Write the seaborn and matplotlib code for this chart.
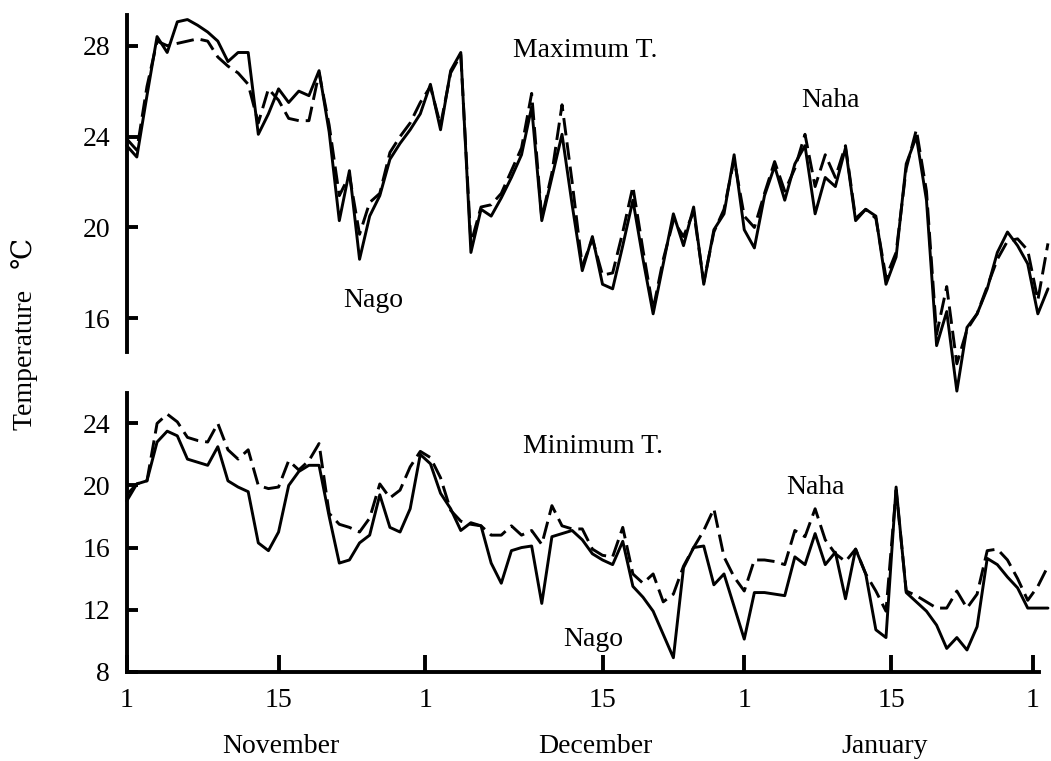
import numpy as np
import pandas as pd
import matplotlib
matplotlib.use("Agg")
import matplotlib.pyplot as plt
import matplotlib.transforms as mtransforms
import seaborn as sns

# ---------------- data (daily, Nov 1 -> Jan 31) ----------------
max_nago = [23.6, 23.1, 25.8, 28.4, 27.7, 29.05, 29.15, 28.9, 28.6, 28.2,
            27.3, 27.7, 27.7, 24.1, 25.0, 26.1, 25.5, 26.0, 25.8, 26.9,
            24.2, 20.3, 22.5, 18.6, 20.5, 21.4, 23.0, 23.7, 24.3, 25.0,
            26.3, 24.3, 26.9, 27.7, 18.9, 20.8, 20.5, 21.3, 22.2, 23.2,
            25.3, 20.3, 22.2, 24.1, 21.0, 18.1, 19.6, 17.5, 17.3, 19.2,
            21.2, 18.6, 16.2, 18.4, 20.6, 19.2, 20.9, 17.5, 19.9, 20.6,
            23.2, 19.9, 19.1, 21.4, 22.7, 21.2, 22.8, 23.6, 20.6, 22.2,
            21.8, 23.5, 20.3, 20.8, 20.5, 17.5, 18.7, 22.8, 24.0, 21.2,
            14.8, 16.3, 12.8, 15.6, 16.2, 17.3, 18.9, 19.8, 19.2, 18.4,
            16.2, 17.3]
max_naha = [23.9, 23.4, 26.2, 28.2, 28.0, 28.1, 28.2, 28.3, 28.2, 27.5,
            27.1, 26.8, 26.3, 24.6, 26.1, 25.6, 24.8, 24.7, 24.7, 26.8,
            24.5, 21.4, 22.3, 19.7, 21.1, 21.5, 23.3, 24.0, 24.6, 25.5,
            26.2, 24.5, 26.8, 27.6, 19.3, 20.9, 21.0, 21.5, 22.5, 23.5,
            25.9, 20.4, 22.4, 25.4, 22.0, 18.3, 19.5, 17.9, 18.0, 19.8,
            21.8, 19.0, 16.4, 18.6, 20.3, 19.6, 20.7, 17.6, 19.8, 20.8,
            23.0, 20.5, 20.0, 21.5, 22.9, 21.6, 22.6, 24.1, 21.8, 23.2,
            22.2, 23.6, 20.4, 20.8, 20.4, 17.8, 18.9, 22.6, 24.3, 21.6,
            15.3, 17.4, 14.0, 15.5, 16.2, 17.4, 18.6, 19.4, 19.5, 19.0,
            16.8, 19.3]
min_nago = [19.0, 20.1, 20.3, 22.8, 23.5, 23.2, 21.7, 21.5, 21.3, 22.5,
            20.3, 19.9, 19.6, 16.3, 15.8, 17.0, 20.0, 20.9, 21.3, 21.3,
            18.0, 15.0, 15.2, 16.3, 16.8, 19.4, 17.3, 17.0, 18.5, 22.0,
            21.4, 19.5, 18.5, 17.1, 17.6, 17.4, 15.0, 13.7, 15.8, 16.0,
            16.1, 12.4, 16.7, 16.9, 17.1, 16.5, 15.6, 15.2, 14.9, 16.4,
            13.5, 12.8, 11.9, 10.4, 8.9, 14.7, 16.0, 16.1, 13.6, 14.3,
            12.2, 10.1, 13.1, 13.1, 13.0, 12.9, 15.4, 14.9, 16.9, 14.9,
            15.7, 12.7, 15.9, 14.3, 10.7, 10.2, 19.9, 13.1, 12.5, 11.9,
            11.0, 9.5, 10.2, 9.4, 10.9, 15.3, 14.9, 14.1, 13.4, 12.1,
            12.1, 12.1]
min_naha = [19.4, 20.1, 20.3, 24.0, 24.6, 24.1, 23.1, 22.9, 22.8, 24.0,
            22.3, 21.7, 22.3, 20.0, 19.8, 19.9, 21.6, 21.0, 21.6, 22.7,
            18.2, 17.5, 17.3, 17.0, 17.9, 20.1, 19.2, 19.7, 21.2, 22.2,
            21.8, 20.5, 18.4, 17.7, 17.5, 17.4, 16.8, 16.8, 17.4, 16.8,
            17.1, 16.2, 18.7, 17.4, 17.2, 17.2, 15.9, 15.5, 15.4, 17.3,
            14.3, 13.7, 14.3, 12.5, 13.0, 14.8, 16.0, 17.1, 18.5, 15.4,
            14.1, 13.2, 15.2, 15.2, 15.1, 14.9, 17.1, 16.7, 18.5, 16.5,
            15.6, 15.1, 15.9, 14.3, 13.2, 11.9, 19.7, 13.2, 12.9, 12.5,
            12.1, 12.1, 13.2, 12.1, 13.0, 15.8, 15.9, 15.2, 14.0, 12.6,
            13.5, 14.8]

days = list(range(len(max_nago)))
stations = ["Nago", "Naha"]
x_tick_pos = [0, 15, 29.5, 47, 61, 75.5, 89.5]
x_tick_labels = ["1", "15", "1", "15", "1", "15", "1"]
month_pos = [15.2, 46.3, 74.9]
month_labels = ["November", "December", "January"]
max_yticks = [16, 20, 24, 28]
min_yticks = [8, 12, 16, 20, 24]


def long_form(nago, naha):
    return pd.DataFrame({
        "day": days + days,
        "temp": list(nago) + list(naha),
        "station": ["Nago"] * len(nago) + ["Naha"] * len(naha),
    })


df_max = long_form(max_nago, max_naha)
df_min = long_form(min_nago, min_naha)

# ---------------- style ----------------
sns.set_style("ticks")
plt.rcParams["font.family"] = ["Liberation Serif", "DejaVu Serif"]
plt.rcParams["font.size"] = 20
for key in ("text.color", "axes.edgecolor", "axes.labelcolor",
            "xtick.color", "ytick.color", "xtick.labelcolor", "ytick.labelcolor"):
    plt.rcParams[key] = "black"

W, H = 1051, 761
fig = plt.figure(figsize=(W / 100, H / 100), dpi=100)

left = 126.7 / W
width = (W - 126.7) / W
ax_top = fig.add_axes([left, 1 - 352 / H, width, 337 / H])
ax_bot = fig.add_axes([left, 1 - 671.7 / H, width, (671.7 - 393) / H])

dash_map = {"Nago": "", "Naha": (6, 2.4)}
for ax, df in ((ax_top, df_max), (ax_bot, df_min)):
    sns.lineplot(data=df, x="day", y="temp", style="station",
                 style_order=stations, dashes=dash_map, color="black",
                 linewidth=2.1, legend=False, ax=ax, clip_on=False,
                 estimator=None)
    ax.set_xlim(0, 91.3)
    ax.set_xlabel("")
    ax.set_ylabel("")
    ax.spines["top"].set_visible(False)
    ax.spines["right"].set_visible(False)
    ax.spines["left"].set_linewidth(2.8)
    ax.spines["left"].set_color("black")
    ax.tick_params(axis="y", direction="in", length=8, width=2.8,
                   pad=12, labelsize=20, colors="black")

# top panel
ax_top.set_ylim(14.52, 29.35)
ax_top.set_yticks(max_yticks)
ax_top.set_yticklabels([str(v) for v in max_yticks])
ax_top.spines["bottom"].set_visible(False)
ax_top.set_xticks([])
ax_top.text(45.3, 27.8, "Maximum T.", ha="center", va="center", fontsize=20)
ax_top.text(69.5, 25.6, "Naha", ha="center", va="center", fontsize=20)
ax_top.text(24.3, 16.8, "Nago", ha="center", va="center", fontsize=20)

# bottom panel
ax_bot.set_ylim(8, 25.96)
ax_bot.set_yticks(min_yticks)
ax_bot.set_yticklabels([str(v) for v in min_yticks])
ax_bot.spines["bottom"].set_linewidth(2.8)
ax_bot.spines["bottom"].set_color("black")
ax_bot.spines["bottom"].set_bounds(0, 90.1)
ax_bot.set_xticks(x_tick_pos)
ax_bot.set_xticklabels(x_tick_labels)
ax_bot.tick_params(axis="x", direction="in", length=12, width=2.8,
                   pad=12, labelsize=20, colors="black")
ax_bot.text(46.1, 22.5, "Minimum T.", ha="center", va="center", fontsize=20)
ax_bot.text(68.0, 19.9, "Naha", ha="center", va="center", fontsize=20)
ax_bot.text(46.1, 10.1, "Nago", ha="center", va="center", fontsize=20)

trans = mtransforms.blended_transform_factory(ax_bot.transData, ax_bot.transAxes)
for pos, lab in zip(month_pos, month_labels):
    ax_bot.text(pos, -0.27, lab, transform=trans, ha="center", va="center",
                fontsize=20)

fig.text(25 / W, 1 - 334 / H, "Temperature   \u2103", rotation=90,
         ha="center", va="center", fontsize=20,
         family=["Liberation Serif", "DejaVu Serif"])

fig.savefig("out.png", dpi=100, facecolor="white")
